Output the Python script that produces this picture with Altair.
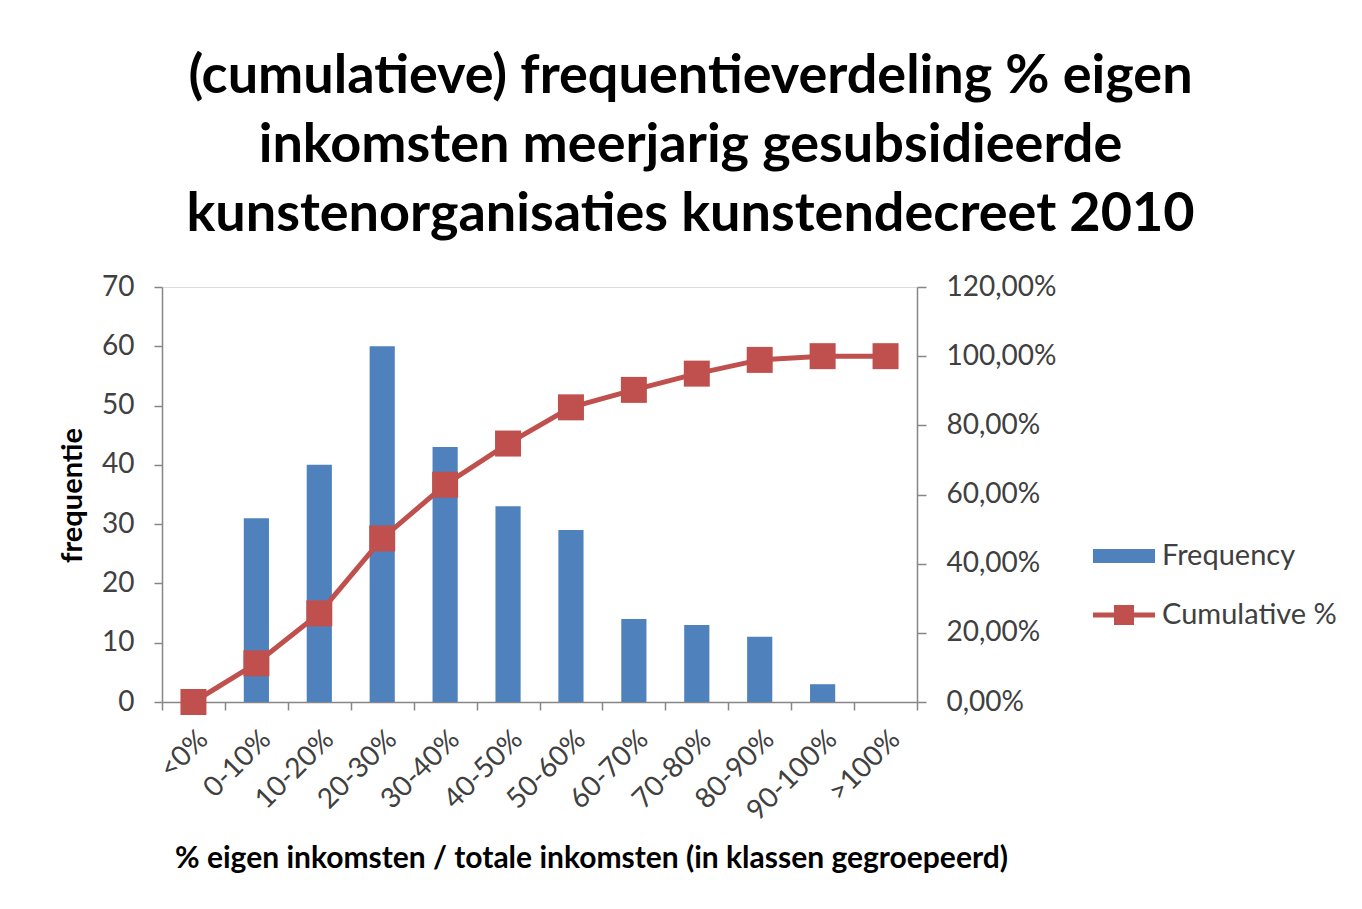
import altair as alt
import pandas as pd

categories = ["<0%", "0-10%", "10-20%", "20-30%", "30-40%", "40-50%",
              "50-60%", "60-70%", "70-80%", "80-90%", "90-100%", ">100%"]
frequency = [0, 31, 40, 60, 43, 33, 29, 14, 13, 11, 3, 0]
cumulative = [0.0, 0.1119, 0.2563, 0.4729, 0.6282, 0.7473,
              0.8520, 0.9025, 0.9495, 0.9892, 1.0, 1.0]
left_ticks = [0, 10, 20, 30, 40, 50, 60, 70]
right_ticks = [0.0, 0.2, 0.4, 0.6, 0.8, 1.0, 1.2]
series = ["Frequency", "Cumulative %"]
title_lines = ["(cumulatieve) frequentieverdeling % eigen",
               "inkomsten meerjarig gesubsidieerde",
               "kunstenorganisaties kunstendecreet 2010"]
x_title = "% eigen inkomsten / totale inkomsten (in klassen gegroepeerd)"
y_title = "frequentie"

BLUE = "#4F81BD"
RED = "#C0504D"
TXT = "#404040"
AX = "#868686"
FONT = "Lato"

df = pd.DataFrame({"category": categories, "frequency": frequency,
                   "cumulative": cumulative})
legend_df = pd.DataFrame({"series": series})

x_enc = alt.X(
    "category:N", sort=categories,
    scale=alt.Scale(paddingInner=0, paddingOuter=0),
    axis=alt.Axis(
        title=x_title, labelAngle=-45, labelAlign="right", labelBaseline="top",
        labelFontSize=28, labelFont=FONT, labelColor=TXT, labelPadding=15,
        labelOverlap=False, labelBound=False, labelFlush=False,
        tickSize=8, tickBand="extent", tickColor=AX, domainColor=AX,
        domainWidth=1.5, tickWidth=1.5,
        titleFont=FONT, titleFontSize=30, titleFontWeight="bold",
        titleColor="black", titleX=429, titleY=156,
        titleAlign="center", titleBaseline="middle",
    ),
)

bars = alt.Chart(df).mark_bar(color=BLUE, width=alt.RelativeBandSize(0.4)).encode(
    x=x_enc,
    y=alt.Y("frequency:Q", scale=alt.Scale(domain=[0, 70], nice=False),
            axis=alt.Axis(
                values=left_ticks, grid=False, title=y_title,
                labelFontSize=28, labelFont=FONT, labelColor=TXT,
                labelPadding=20, tickSize=8, tickColor=AX, domainColor=AX,
                domainWidth=1.5, tickWidth=1.5,
                titleFont=FONT, titleFontSize=29, titleFontWeight="bold",
                titleColor="black", titleX=-90, titleY=208,
                titleAlign="center", titleBaseline="middle", titleAngle=-90,
            )),
)

line = alt.Chart(df).mark_line(
    color=RED, strokeWidth=5,
    point=alt.OverlayMarkDef(shape="square", size=676, filled=True,
                             color=RED, opacity=1),
).encode(
    x=alt.X("category:N", sort=categories),
    y=alt.Y("cumulative:Q", scale=alt.Scale(domain=[0, 1.2], nice=False),
            axis=alt.Axis(
                orient="right", values=right_ticks, grid=False, title=None,
                labelExpr="replace(format(datum.value, '.2%'), '.', ',')",
                labelFontSize=28, labelFont=FONT, labelColor=TXT,
                labelPadding=20, tickSize=9, tickColor=AX, domainColor=AX,
                domainWidth=1.5, tickWidth=1.5,
            )),
)

rect_path = "M-1.07,-0.24H1.07V0.24H-1.07Z"
line_sq_path = ("M-1.07,-0.086H-0.345V-0.345H0.345V-0.086H1.07V0.086H0.345"
                "V0.345H-0.345V0.086H-1.07Z")

leg = alt.Legend(
    title=None, orient="none", legendX=933, legendY=240,
    symbolSize=3364, symbolStrokeWidth=0, padding=0, rowPadding=15,
    labelFontSize=29, labelFont=FONT, labelColor=TXT, labelOffset=9,
    labelLimit=400, symbolOpacity=1,
)

legend_layer = alt.Chart(legend_df).mark_point(filled=True, opacity=1).encode(
    color=alt.Color("series:N", scale=alt.Scale(domain=series, range=[BLUE, RED]),
                    legend=leg),
    shape=alt.Shape("series:N",
                    scale=alt.Scale(domain=series, range=[rect_path, line_sq_path]),
                    legend=leg),
).transform_filter("false")

chart = alt.layer(bars, line, legend_layer).resolve_scale(
    y="independent"
).properties(
    width=755, height=415,
    autosize=alt.AutoSizeParams(type="none"),
    padding={"left": 154, "top": 279, "right": 431, "bottom": 190},
    title=alt.TitleParams(
        text=title_lines, fontSize=54, font=FONT, fontWeight="bold",
        color="black", anchor="middle", frame="group", dx=151,
        lineHeight=69, offset=31,
    ),
).configure_view(stroke=None).configure(background="white")

chart.save("out.html", embed_options={"renderer": "svg", "actions": False})
